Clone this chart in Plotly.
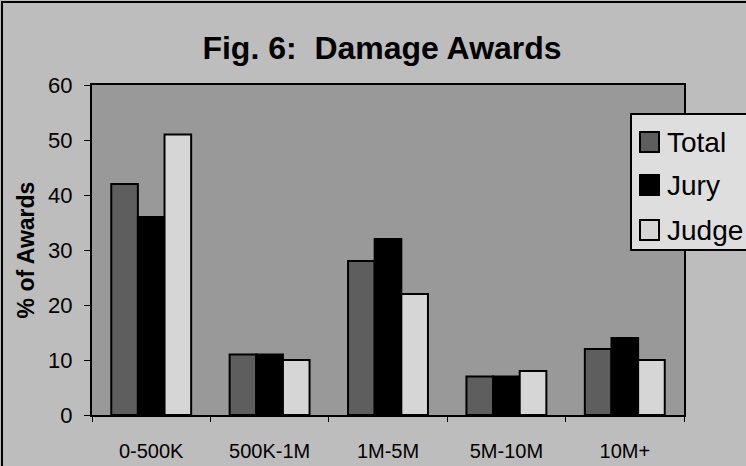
import plotly.graph_objects as go

categories = ["0-500K", "500K-1M", "1M-5M", "5M-10M", "10M+"]
total = [42, 11, 28, 7, 12]
jury = [36, 11, 32, 7, 14]
judge = [51, 10, 22, 8, 10]
yticks = [0, 10, 20, 30, 40, 50, 60]
series_names = ["Total", "Jury", "Judge"]
series_colors = ["#5e5e5e", "#000000", "#d6d6d6"]

W, H = 746, 466
ml, mr, mt, mb = 92, 62, 85, 51
pw, ph = W - ml - mr, H - mt - mb


def px(x):
    return (x - ml) / pw


def py(y):
    return 1 - (y - mt) / ph


font = "Liberation Sans, Arial, sans-serif"
fig = go.Figure()
for name, vals, col in zip(series_names, [total, jury, judge], series_colors):
    fig.add_bar(name=name, x=categories, y=vals, showlegend=False,
                marker=dict(color=col, line=dict(color="black", width=2)))

fig.update_layout(
    width=W, height=H,
    margin=dict(l=ml, r=mr, t=mt, b=mb, autoexpand=False),
    paper_bgcolor="#bdbdbd",
    plot_bgcolor="#999999",
    barmode="group", bargap=0.325, bargroupgap=0,
    font=dict(family=font, color="black"),
    title=dict(text="<b>Fig. 6:  Damage Awards</b>", x=382 / W, xanchor="center",
               y=1 - 48 / H, yanchor="middle", font=dict(size=32)),
    showlegend=False,
    xaxis=dict(showline=True, linecolor="black", linewidth=2, mirror=True,
               ticks="outside", tickson="boundaries", ticklen=5, tickcolor="black",
               tickfont=dict(size=20), ticklabelstandoff=17),
    yaxis=dict(range=[0, 60], tickvals=yticks, showline=True, linecolor="black",
               linewidth=2, mirror=True, ticks="outside", ticklen=6, tickcolor="black",
               showgrid=False, zeroline=False, tickfont=dict(size=22),
               ticklabelstandoff=7,
               title=dict(text="<b>% of Awards</b>", font=dict(size=23), standoff=7)),
)

# outer frame of the figure (left and top edges visible)
fig.add_shape(type="rect", xref="paper", yref="paper",
              x0=px(2), x1=px(W + 10), y0=py(H + 10), y1=py(2),
              line=dict(color="black", width=2), layer="below")

# legend box drawn like the original (runs off the right edge)
fig.add_shape(type="rect", xref="paper", yref="paper",
              x0=px(631), x1=px(W + 20), y0=py(250), y1=py(114),
              fillcolor="#dedede", line=dict(color="black", width=2))
row_y = [142, 185, 230]
for name, col, yy in zip(series_names, series_colors, row_y):
    fig.add_shape(type="rect", xref="paper", yref="paper",
                  x0=px(640), x1=px(659), y0=py(yy + 10), y1=py(yy - 10),
                  fillcolor=col, line=dict(color="black", width=2))
    fig.add_annotation(text=name, xref="paper", yref="paper", x=px(665), y=py(yy),
                       xanchor="left", yanchor="middle", showarrow=False,
                       font=dict(size=28, color="black"))

fig.write_html("out.html", config={"displayModeBar": False},
               post_script="document.body.style.margin='0';")
